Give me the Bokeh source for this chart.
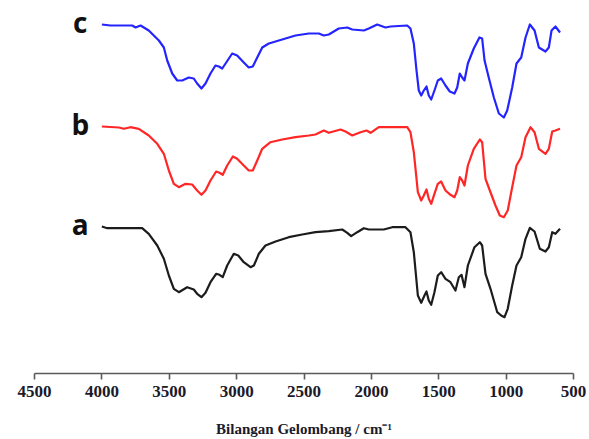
from bokeh.plotting import figure
from bokeh.models import Range1d, FixedTicker
from bokeh.core.properties import value
from bokeh.embed import file_html
from bokeh.resources import INLINE

# Wavenumber (cm^-1) and offset transmittance (a.u.) for each spectrum
wn_a = [4000, 3960, 3701, 3652, 3589, 3540, 3503, 3466, 3429, 3367, 3318, 3293, 3261, 3231,
        3194, 3152, 3127, 3103, 3070, 3021, 2988, 2947, 2897, 2872, 2835, 2786, 2711, 2613,
        2513, 2415, 2316, 2216, 2179, 2150, 2105, 2056, 2019, 1908, 1845, 1747, 1710, 1685,
        1655, 1630, 1606, 1591, 1574, 1556, 1532, 1507, 1482, 1450, 1413, 1376, 1351, 1331,
        1309, 1284, 1235, 1195, 1178, 1153, 1116, 1066, 1037, 1012, 988, 955, 923, 888, 856,
        824, 789, 750, 708, 683, 658, 634, 600]
t_a = [147, 145.3, 145.3, 139.7, 128, 114.7, 98, 84.7, 81.3, 86.3, 84, 79.7, 76.3, 80.7,
       91.3, 99.7, 98.7, 96.3, 108, 119.7, 118, 111.3, 106.3, 108, 119.7, 128, 132, 136.3,
       139, 141.3, 142.3, 144, 140.7, 137.3, 141.3, 145.3, 144, 144, 146.3, 146.3, 141.3, 121.3,
       78, 70.7, 78, 82, 73, 68.7, 81.3, 98, 101.3, 94.7, 91.3, 83, 96.3, 98.7,
       86.3, 108, 126.3, 131.3, 128, 99.7, 84.7, 61.3, 58, 56.3, 64.7, 88, 108, 116.3, 134.7,
       145.7, 142, 124.7, 122, 126.3, 141.3, 139.7, 144.7]

wn_b = [4000, 3874, 3837, 3788, 3726, 3652, 3589, 3540, 3503, 3466, 3429, 3379, 3330, 3293,
        3261, 3231, 3194, 3152, 3127, 3103, 3070, 3028, 2996, 2947, 2910, 2880, 2847, 2810,
        2749, 2662, 2563, 2464, 2415, 2353, 2316, 2229, 2192, 2142, 2081, 2036, 2006, 1945,
        1734, 1710, 1685, 1655, 1630, 1611, 1591, 1574, 1556, 1532, 1507, 1482, 1450, 1413,
        1383, 1363, 1344, 1326, 1309, 1284, 1240, 1195, 1178, 1153, 1121, 1079, 1047, 1017,
        988, 955, 923, 888, 856, 819, 789, 757, 708, 683, 658, 634, 600]
t_b = [247, 246, 244.7, 246.3, 244.7, 238, 229.7, 219.7, 203, 189.7, 186.3, 189.7, 189, 183,
       178.7, 183, 193, 202, 200.7, 198.7, 208, 217, 214.7, 208, 203, 203, 213, 224.7,
       231.3, 234, 236.3, 238, 239, 243, 240.7, 244, 242, 238, 241.3, 243, 240.7, 246.3,
       246.3, 241.3, 221.3, 181.3, 173, 178, 184, 174.7, 169.7, 179.7, 189.7, 192, 183, 178.7,
       176.3, 183, 196.3, 193, 188, 208, 224.7, 234, 231.3, 194.7, 183, 168, 158, 156.3,
       163, 186.3, 208, 216.3, 236.3, 246.3, 241.3, 224.7, 219.7, 224.7, 242, 243, 244.7]

wn_c = [4000, 3936, 3775, 3750, 3713, 3652, 3577, 3540, 3515, 3478, 3441, 3404, 3355, 3318,
        3293, 3261, 3231, 3194, 3157, 3132, 3107, 3077, 3033, 2996, 2947, 2910, 2880, 2847,
        2810, 2761, 2662, 2563, 2464, 2390, 2353, 2316, 2242, 2179, 2142, 2056, 2019, 1957,
        1895, 1858, 1734, 1710, 1685, 1665, 1648, 1630, 1611, 1591, 1574, 1556, 1532, 1507,
        1482, 1450, 1418, 1383, 1363, 1344, 1326, 1309, 1284, 1240, 1198, 1178, 1160, 1129,
        1091, 1054, 1017, 992, 955, 923, 888, 856, 824, 789, 757, 708, 683, 663, 634, 600]
t_c = [349, 348, 348, 346, 348, 343, 333, 326, 313, 300, 293, 293, 296, 295,
       290, 285, 290, 300, 308, 307, 305, 311, 320, 318, 311, 306, 307, 316,
       326, 330, 334, 338, 340, 340, 338, 339, 345, 346, 344, 343, 345, 349,
       346, 347, 348, 345, 330, 303, 283, 278, 283, 287, 278, 274, 283, 293,
       295, 288, 282, 280, 286, 300, 296, 293, 310, 325, 336, 335, 313, 296,
       276, 260, 256, 263, 286, 310, 316, 336, 349, 343, 326, 322, 326, 343, 347, 341]

labels = ["a", "b", "c"]
colors = ["#1c1c1c", "#ff2626", "#2424ff"]
x_ticks = [4500, 4000, 3500, 3000, 2500, 2000, 1500, 1000, 500]
x_title = "Bilangan Gelombang / cm\u207b\u00b9"
serif = "'Liberation Serif', 'Times New Roman', serif"

p = figure(width=589, height=439, output_backend="svg", toolbar_location=None,
           x_range=Range1d(4500, 500), y_range=Range1d(0, 373),
           min_border_left=34, min_border_right=16, min_border_top=0, min_border_bottom=66)
p.outline_line_color = None
p.grid.visible = False
p.yaxis.visible = False
p.background_fill_color = "white"
p.border_fill_color = "white"

for wn, t, lab, col in zip([wn_a, wn_b, wn_c], [t_a, t_b, t_c], labels, colors):
    p.line(wn, t, line_color=col, line_width=2.2, line_join="round")
    p.text(x=[wn[0] + 160], y=[t[0] + 3], text=[lab], text_align="center",
           text_baseline="middle", text_font=value("Open Sans"),
           text_font_style="bold", text_font_size="28px", text_color="#111111")

ax = p.xaxis[0]
ax.ticker = FixedTicker(ticks=x_ticks)
ax.minor_tick_line_color = None
ax.major_tick_in = 0
ax.major_tick_out = 6
ax.axis_line_color = "#5a5a5a"
ax.axis_line_width = 1.6
ax.major_tick_line_color = "#5a5a5a"
ax.major_tick_line_width = 1.6
ax.major_label_standoff = 6
ax.major_label_text_font = serif
ax.major_label_text_font_style = "bold"
ax.major_label_text_font_size = "17px"
ax.major_label_text_color = "#1a1a2a"
ax.axis_label = x_title
ax.axis_label_text_font = serif
ax.axis_label_text_font_style = "bold"
ax.axis_label_text_font_size = "15px"
ax.axis_label_text_color = "#1a1a2a"
ax.axis_label_standoff = 21

open("out.html", "w").write(file_html(p, INLINE))
